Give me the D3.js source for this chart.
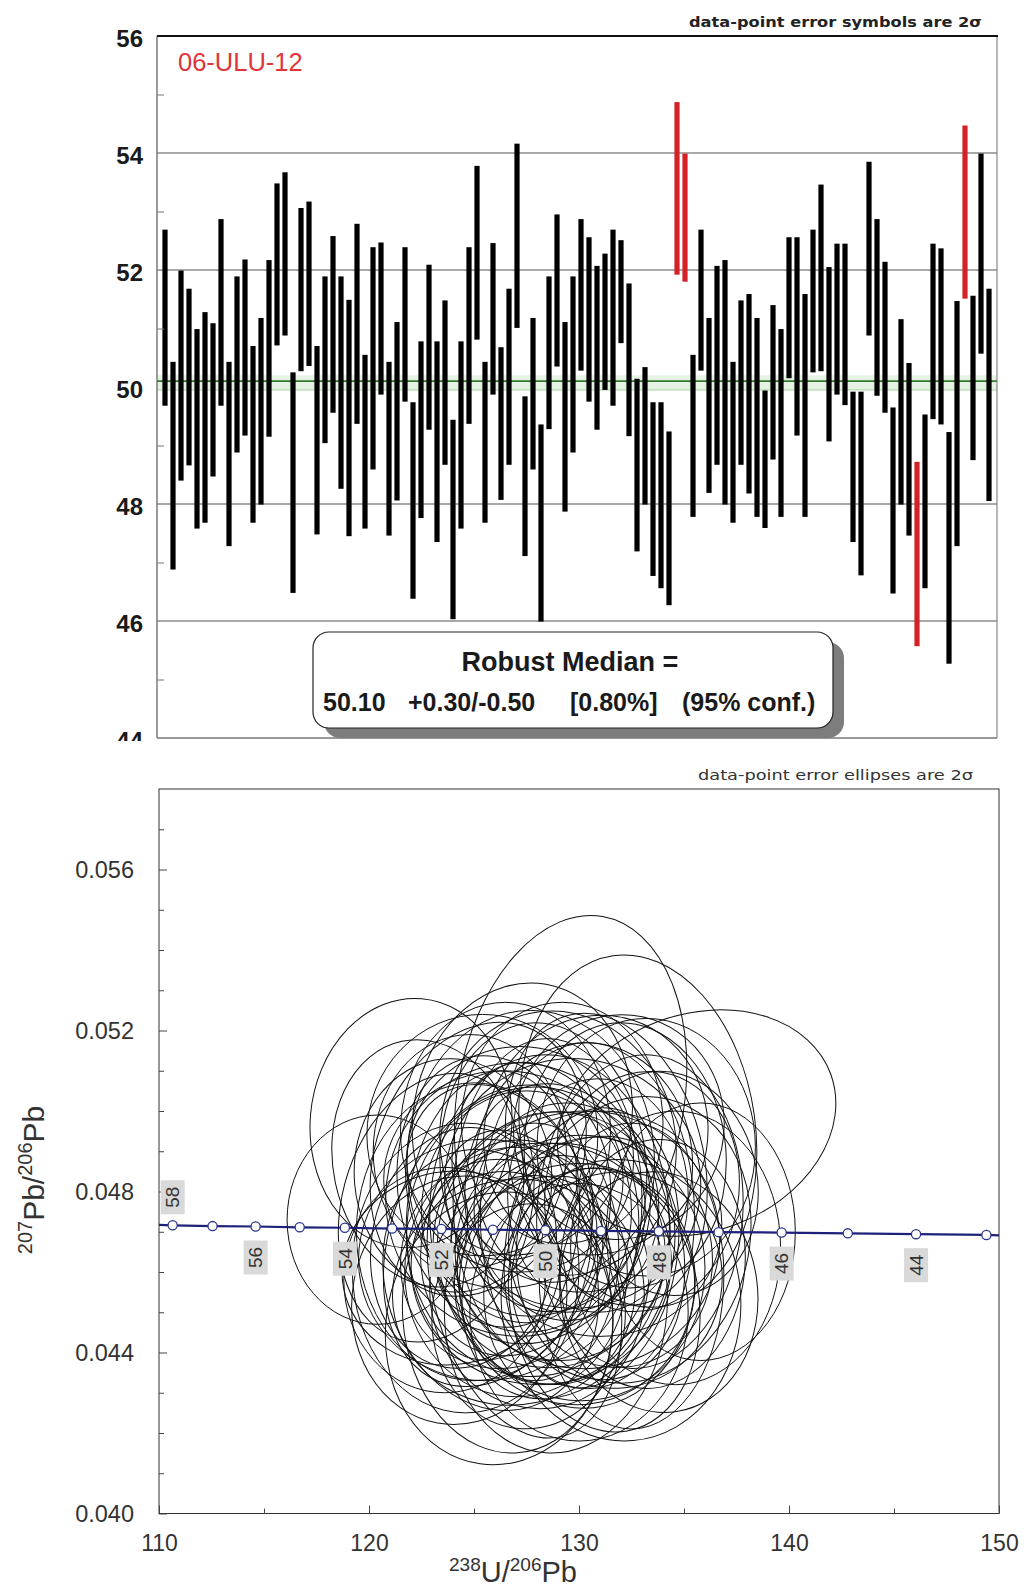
<!DOCTYPE html>
<html>
<head>
<meta charset="utf-8">
<script src="https://cdn.jsdelivr.net/npm/d3@7"></script>
<style>
  html, body { margin: 0; padding: 0; background: #fff; }
  svg { display: block; font-family: "Liberation Sans", Arial, Helvetica, sans-serif; }
</style>
</head>
<body>
<svg id="chart" width="1027" height="1593"></svg>
<script>
// ---------- Upper panel: 206Pb/238U spot ages (Ma), 2-sigma limits ----------
const sampleName = "06-ULU-12";
const ageUpper = [
  52.69, 50.43, 51.99, 51.68, 50.99, 51.28, 51.09, 52.87, 50.43, 51.89,
  52.18, 50.70, 51.18, 52.17, 53.48, 53.67, 50.25, 53.06, 53.17, 50.70,
  51.89, 52.58, 51.89, 51.49, 52.79, 50.55, 52.39, 52.47, 50.43, 51.11,
  52.39, 49.74, 50.78, 52.09, 50.78, 51.48, 49.44, 50.78, 52.39, 53.78,
  50.43, 52.46, 50.68, 51.68, 54.16, 49.84, 51.18, 49.36, 51.89, 52.95,
  51.11, 51.89, 52.87, 52.56, 52.07, 52.28, 52.69, 52.51, 51.77, 50.14,
  50.34, 49.74, 49.74, 49.24, 54.87, 53.99, 50.55, 52.69, 51.18, 52.07,
  52.17, 50.43, 51.48, 51.59, 51.18, 49.94, 51.40, 50.99, 52.56, 52.56,
  51.59, 52.69, 53.46, 52.05, 52.45, 52.45, 49.92, 49.92, 53.85, 52.87,
  52.14, 49.65, 51.16, 50.41, 48.72, 49.53, 52.45, 52.37, 49.23, 51.47,
  54.47, 51.56, 53.99, 51.68
];
const ageLower = [
  49.68, 46.88, 48.40, 48.66, 47.58, 47.68, 48.47, 49.68, 47.28, 48.88,
  49.17, 47.68, 47.99, 49.15, 50.71, 50.88, 46.48, 50.27, 50.36, 47.48,
  49.04, 49.56, 48.26, 47.45, 49.37, 47.58, 48.59, 49.87, 47.46, 48.06,
  49.75, 46.38, 47.76, 49.27, 47.35, 48.67, 46.03, 47.58, 49.37, 50.81,
  47.68, 49.87, 48.07, 48.67, 51.01, 47.11, 48.59, 45.99, 49.28, 50.35,
  47.87, 48.88, 50.28, 49.75, 49.27, 49.95, 49.68, 50.75, 49.16, 47.19,
  47.99, 46.77, 46.56, 46.27, 51.92, 51.80, 47.78, 50.28, 48.19, 48.67,
  47.99, 47.68, 48.67, 48.18, 47.78, 47.59, 48.76, 47.78, 50.15, 49.17,
  47.78, 50.25, 50.27, 49.07, 49.87, 49.69, 47.35, 46.78, 50.88, 49.85,
  49.56, 46.47, 47.99, 47.46, 45.57, 46.56, 49.45, 49.36, 45.27, 47.28,
  51.51, 48.75, 50.57, 48.05
];
const rejectedSpots = [65, 66, 95, 101];          // 1-based spot numbers
const ageTicks = [44, 46, 48, 50, 52, 54, 56];
const ageMinorTicks = [45, 47, 49, 51, 53, 55];
const ageGrid = [46, 48, 50, 52, 54];
const robustMedian = 50.10;
const medianBand = [49.95, 50.20];
const medianLine1 = "Robust Median =";
const medianLine2 = ["50.10", "+0.30/-0.50", "[0.80%]", "(95% conf.)"];

// ---------- Lower panel: Tera-Wasserburg concordia ----------
const trAxisTicks = [110, 120, 130, 140, 150];
const trAxisMinor = [115, 125, 135, 145];
const pbTicks = [0.040, 0.044, 0.048, 0.052, 0.056];
const pbMinor = [0.041, 0.042, 0.043, 0.045, 0.046, 0.047, 0.049, 0.050, 0.051, 0.053, 0.054, 0.055, 0.057];
const concordiaAges = [58, 57, 56, 55, 54, 53, 52, 51, 50, 49, 48, 47, 46, 45, 44, 43];
const concordiaX = [110.65, 112.55, 114.6, 116.7, 118.85, 121.1, 123.45, 125.9, 128.4, 131.05, 133.8, 136.65, 139.65, 142.8, 146.05, 149.4];
const concordiaY = [0.04716, 0.04714, 0.04713, 0.04711, 0.04710, 0.04708, 0.04707, 0.04705, 0.04704, 0.04702, 0.04701, 0.04699, 0.04698, 0.04696, 0.04694, 0.04692];
const concordiaEnds = [[110, 0.04717], [150, 0.04691]];
const labelledAges = [58, 56, 54, 52, 50, 48, 46, 44];

// error ellipses: [238U/206Pb, 207Pb/206Pb, half-width, half-height, tilt deg]
const ellipses = [
  [129.6, 0.0503, 5.4, 0.0046, 10], [135.6, 0.0497, 6.8, 0.0027, -20], [122.0, 0.0497, 4.8, 0.0031, 5],
  [132.8, 0.0495, 5.6, 0.0044, -8], [120.4, 0.0473, 4.3, 0.0026, 0], [123.9, 0.0461, 5.2, 0.0024, -10],
  [126.2, 0.0446, 5.4, 0.0034, 8], [132.0, 0.0453, 5.7, 0.0035, -5], [135.8, 0.0470, 4.5, 0.0032, 0],
  [130.5, 0.0456, 5.0, 0.0030, 12], [127.5, 0.0475, 5.0, 0.0030, 0], [128.8, 0.0468, 5.5, 0.0032, 15],
  [126.0, 0.0480, 4.6, 0.0034, -10], [130.2, 0.0486, 5.2, 0.0031, 5], [125.2, 0.0488, 4.9, 0.0035, 20],
  [131.5, 0.0465, 4.8, 0.0029, -15], [127.0, 0.0460, 5.3, 0.0031, 0], [129.0, 0.0492, 5.6, 0.0033, -12],
  [124.5, 0.0466, 4.4, 0.0030, 8], [133.0, 0.0480, 4.6, 0.0030, 10], [128.0, 0.0455, 5.1, 0.0029, -8],
  [126.5, 0.0495, 5.0, 0.0032, 0], [130.8, 0.0494, 5.3, 0.0030, 18], [125.8, 0.0458, 5.0, 0.0033, -18],
  [132.2, 0.0489, 4.8, 0.0033, -5], [127.8, 0.0470, 6.0, 0.0036, 3], [129.5, 0.0461, 4.7, 0.0034, 25],
  [124.0, 0.0484, 4.7, 0.0029, -5], [131.0, 0.0472, 5.8, 0.0028, 0], [126.8, 0.0466, 4.3, 0.0027, 12],
  [128.5, 0.0478, 4.5, 0.0040, 0], [133.5, 0.0462, 4.4, 0.0031, 6], [125.0, 0.0470, 5.6, 0.0037, 0],
  [129.8, 0.0470, 4.9, 0.0038, -20], [127.2, 0.0488, 5.4, 0.0028, 10], [130.0, 0.0450, 5.2, 0.0032, 0],
  [123.2, 0.0476, 4.5, 0.0034, 15], [128.2, 0.0462, 6.2, 0.0030, -6], [131.8, 0.0458, 5.0, 0.0027, 20],
  [126.3, 0.0477, 4.2, 0.0031, -25], [129.2, 0.0497, 4.8, 0.0030, 0], [134.2, 0.0482, 4.3, 0.0028, -10],
  [127.6, 0.0449, 4.6, 0.0028, 5], [125.5, 0.0463, 6.0, 0.0030, 0], [130.6, 0.0466, 4.1, 0.0035, 8],
  [128.6, 0.0473, 5.7, 0.0041, -3], [124.8, 0.0490, 4.6, 0.0029, 0], [132.6, 0.0468, 5.5, 0.0036, 14],
  [126.9, 0.0455, 5.8, 0.0028, -12], [129.4, 0.0476, 4.4, 0.0026, 0], [127.3, 0.0498, 5.2, 0.0034, 10],
  [131.3, 0.0488, 4.6, 0.0037, -15], [128.9, 0.0452, 5.3, 0.0037, 4], [123.6, 0.0458, 4.8, 0.0028, 0],
  [133.8, 0.0455, 4.7, 0.0030, -8], [126.1, 0.0469, 5.0, 0.0039, 22], [130.1, 0.0461, 5.9, 0.0033, 0],
  [128.3, 0.0486, 4.9, 0.0036, -6], [125.4, 0.0494, 5.5, 0.0030, 0], [131.9, 0.0496, 5.0, 0.0028, 12],
  [127.9, 0.0465, 4.0, 0.0032, 0], [129.7, 0.0482, 6.1, 0.0031, 6], [124.3, 0.0453, 5.1, 0.0031, 10],
  [134.6, 0.0466, 5.0, 0.0034, 0], [126.6, 0.0450, 5.0, 0.0035, -4], [130.4, 0.0474, 5.1, 0.0043, 0],
  [122.8, 0.0487, 4.5, 0.0031, -12], [128.7, 0.0458, 4.6, 0.0026, 16], [132.5, 0.0459, 4.4, 0.0038, 0],
  [127.1, 0.0478, 6.3, 0.0034, -8], [128.1, 0.0471, 4.8, 0.0030, 30], [126.4, 0.0483, 5.7, 0.0027, 0],
  [131.2, 0.0453, 4.5, 0.0033, -10], [129.1, 0.0465, 5.0, 0.0027, 0], [125.9, 0.0474, 4.1, 0.0036, 5],
  [133.2, 0.0491, 5.2, 0.0032, 0], [127.4, 0.0457, 4.4, 0.0039, -14], [130.9, 0.0479, 4.3, 0.0029, 0],
  [124.6, 0.0461, 5.4, 0.0036, 0], [129.9, 0.0457, 5.6, 0.0030, 9], [128.4, 0.0480, 4.2, 0.0033, -18],
  [126.2, 0.0462, 4.7, 0.0026, 0], [132.9, 0.0475, 4.9, 0.0039, 4], [127.7, 0.0487, 5.9, 0.0038, 0],
  [130.3, 0.0468, 6.4, 0.0032, -4]
];

// ======================================================================
const svg = d3.select("#chart");
svg.append("rect").attr("width", 1027).attr("height", 1593).attr("fill", "#fff");
const defs = svg.append("defs");
defs.append("clipPath").attr("id", "topClip")
  .append("rect").attr("x", 0).attr("y", 0).attr("width", 1027).attr("height", 741);

// ---------------- upper panel ----------------
const T = { left: 157, right: 997, top: 36, bottom: 738 };
const xSpot = d3.scaleLinear().domain([0, ageUpper.length + 1]).range([T.left, T.right]);
const yAge = d3.scaleLinear().domain([44, 56]).range([T.bottom, T.top]);
const spots = ageUpper.map((u, i) => ({ n: i + 1, hi: u, lo: ageLower[i], rejected: rejectedSpots.includes(i + 1) }));

const gTop = svg.append("g").attr("clip-path", "url(#topClip)");

// grid lines
gTop.append("g").selectAll("line").data(ageGrid).join("line")
  .attr("x1", T.left).attr("x2", T.right)
  .attr("y1", d => yAge(d)).attr("y2", d => yAge(d))
  .attr("stroke", "#555").attr("stroke-width", 1.2);

// robust median with its band
gTop.append("rect")
  .attr("x", T.left).attr("width", T.right - T.left)
  .attr("y", yAge(medianBand[1])).attr("height", yAge(medianBand[0]) - yAge(medianBand[1]))
  .attr("fill", "#e6f3e4");
gTop.append("line")
  .attr("x1", T.left).attr("x2", T.right)
  .attr("y1", yAge(medianBand[0])).attr("y2", yAge(medianBand[0]))
  .attr("stroke", "#a9d3a4").attr("stroke-width", 1);
gTop.append("line")
  .attr("x1", T.left).attr("x2", T.right)
  .attr("y1", yAge(robustMedian)).attr("y2", yAge(robustMedian))
  .attr("stroke", "#2f7a2a").attr("stroke-width", 1.6);

// error bars
gTop.append("g").selectAll("rect").data(spots).join("rect")
  .attr("x", d => xSpot(d.n) - 2.6).attr("width", 5.2)
  .attr("y", d => yAge(d.hi)).attr("height", d => yAge(d.lo) - yAge(d.hi))
  .attr("fill", d => d.rejected ? "#d42128" : "#000");

// frame
gTop.append("line").attr("x1", T.left).attr("x2", T.left).attr("y1", T.top).attr("y2", T.bottom)
  .attr("stroke", "#666").attr("stroke-width", 1.3);
gTop.append("line").attr("x1", T.right).attr("x2", T.right).attr("y1", T.top).attr("y2", T.bottom)
  .attr("stroke", "#888").attr("stroke-width", 1.2);
gTop.append("line").attr("x1", T.left).attr("x2", T.right).attr("y1", T.bottom).attr("y2", T.bottom)
  .attr("stroke", "#777").attr("stroke-width", 1.3);
gTop.append("line").attr("x1", T.left).attr("x2", T.right + 1).attr("y1", T.top).attr("y2", T.top)
  .attr("stroke", "#111").attr("stroke-width", 2);

// y axis labels and minor ticks
const ageAxis = gTop.append("g").attr("transform", `translate(${T.left},0)`)
  .call(d3.axisLeft(yAge).tickValues(ageTicks).tickSize(0).tickPadding(14).tickFormat(d3.format("d")));
ageAxis.select(".domain").remove();
ageAxis.selectAll("text")
  .attr("dy", "0.42em")
  .attr("font-size", 24).attr("font-weight", "bold").attr("fill", "#1a1a1a")
  .attr("font-family", "'Liberation Sans', Arial, sans-serif");
const ageMinor = gTop.append("g").attr("transform", `translate(${T.left},0)`)
  .call(d3.axisRight(yAge).tickValues(ageMinorTicks).tickSize(7).tickFormat(""));
ageMinor.select(".domain").remove();
ageMinor.selectAll("line").attr("stroke", "#777").attr("stroke-width", 1);

// sample name
gTop.append("text").attr("x", 178).attr("y", 71)
  .attr("font-size", 25.5).attr("fill", "#e0343a").text(sampleName);

// robust median box
const box = { x: 313, y: 632, w: 520, h: 96 };
gTop.append("rect").attr("x", box.x + 11).attr("y", box.y + 10).attr("width", box.w).attr("height", box.h)
  .attr("rx", 16).attr("fill", "#7d7d7d");
gTop.append("rect").attr("x", box.x).attr("y", box.y).attr("width", box.w).attr("height", box.h)
  .attr("rx", 16).attr("fill", "#fff").attr("stroke", "#222").attr("stroke-width", 1.2);
gTop.append("text").attr("x", 570).attr("y", 671).attr("text-anchor", "middle")
  .attr("font-size", 27).attr("font-weight", "bold").attr("fill", "#1a1a1a").text(medianLine1);
const line2X = [323, 408, 570, 682];
gTop.append("g").selectAll("text").data(medianLine2).join("text")
  .attr("x", (d, i) => line2X[i]).attr("y", 711)
  .attr("font-size", 25).attr("font-weight", "bold").attr("fill", "#1a1a1a")
  .text(d => d);

// note
svg.append("text").attr("x", 689).attr("y", 27)
  .attr("font-family", "'DejaVu Sans', sans-serif").attr("font-weight", "bold")
  .attr("font-size", 14).attr("fill", "#222")
  .attr("textLength", 293).attr("lengthAdjust", "spacingAndGlyphs")
  .text("data-point error symbols are 2σ");

// ---------------- lower panel ----------------
const B = { left: 159, right: 999, top: 789, bottom: 1513.5 };
const xTW = d3.scaleLinear().domain([110, 150]).range([B.left, B.right]);
const yTW = d3.scaleLinear().domain([0.040, 0.058]).range([B.bottom, B.top]);
const gBot = svg.append("g");

// frame
gBot.append("rect").attr("x", B.left).attr("y", B.top)
  .attr("width", B.right - B.left).attr("height", B.bottom - B.top)
  .attr("fill", "none").attr("stroke", "#333").attr("stroke-width", 1);

// axes
const yAx = gBot.append("g").attr("transform", `translate(${B.left},0)`)
  .call(d3.axisLeft(yTW).tickValues(pbTicks).tickSize(0).tickPadding(25).tickFormat(d3.format(".3f")));
yAx.select(".domain").remove();
yAx.selectAll("text").attr("font-size", 23.5).attr("fill", "#333")
  .attr("font-family", "'Liberation Sans', Arial, sans-serif");
const yMaj = gBot.append("g").attr("transform", `translate(${B.left},0)`)
  .call(d3.axisRight(yTW).tickValues(pbTicks).tickSize(8).tickFormat(""));
yMaj.select(".domain").remove();
const yMin = gBot.append("g").attr("transform", `translate(${B.left},0)`)
  .call(d3.axisRight(yTW).tickValues(pbMinor).tickSize(5).tickFormat(""));
yMin.select(".domain").remove();

const xAx = gBot.append("g").attr("transform", `translate(0,${B.bottom})`)
  .call(d3.axisBottom(xTW).tickValues(trAxisTicks).tickSize(0).tickPadding(21).tickFormat(d3.format("d")));
xAx.select(".domain").remove();
xAx.selectAll("text").attr("font-size", 23).attr("fill", "#333")
  .attr("font-family", "'Liberation Sans', Arial, sans-serif");
const xMaj = gBot.append("g").attr("transform", `translate(0,${B.bottom})`)
  .call(d3.axisTop(xTW).tickValues(trAxisTicks).tickSize(8).tickFormat(""));
xMaj.select(".domain").remove();
const xMin = gBot.append("g").attr("transform", `translate(0,${B.bottom})`)
  .call(d3.axisTop(xTW).tickValues(trAxisMinor).tickSize(5).tickFormat(""));
xMin.select(".domain").remove();
gBot.selectAll(".tick line").attr("stroke", "#444").attr("stroke-width", 1);

// error ellipses
gBot.append("g").selectAll("ellipse").data(ellipses).join("ellipse")
  .attr("cx", d => xTW(d[0])).attr("cy", d => yTW(d[1]))
  .attr("rx", d => xTW(d[0] + d[2]) - xTW(d[0]))
  .attr("ry", d => yTW(d[1]) - yTW(d[1] + d[3]))
  .attr("transform", d => `rotate(${d[4]},${xTW(d[0])},${yTW(d[1])})`)
  .attr("fill", "none").attr("stroke", "#111").attr("stroke-width", 1);

// concordia curve
const concordiaPts = [concordiaEnds[0], ...concordiaX.map((x, i) => [x, concordiaY[i]]), concordiaEnds[1]];
gBot.append("path").datum(concordiaPts)
  .attr("d", d3.line().x(d => xTW(d[0])).y(d => yTW(d[1])))
  .attr("fill", "none").attr("stroke", "#1d2178").attr("stroke-width", 2.2);
gBot.append("g").selectAll("circle").data(concordiaAges).join("circle")
  .attr("cx", (d, i) => xTW(concordiaX[i])).attr("cy", (d, i) => yTW(concordiaY[i]))
  .attr("r", 4.6).attr("fill", "#fff").attr("stroke", "#2a3590").attr("stroke-width", 1.3);

// age labels
const ageLabels = gBot.append("g").selectAll("g").data(labelledAges).join("g")
  .attr("transform", d => {
    const i = concordiaAges.indexOf(d);
    const off = d === 58 ? -28 : 31;
    return `translate(${xTW(concordiaX[i])},${yTW(concordiaY[i]) + off}) rotate(-90)`;
  });
ageLabels.append("rect").attr("x", -17).attr("y", -12).attr("width", 34).attr("height", 24)
  .attr("fill", "#d9d9d9");
ageLabels.append("text").attr("text-anchor", "middle").attr("dy", "0.36em")
  .attr("font-size", 19).attr("fill", "#333").text(d => d);

// axis titles
const xTitle = svg.append("text").attr("x", 513).attr("y", 1582).attr("text-anchor", "middle")
  .attr("font-size", 29).attr("fill", "#333");
xTitle.append("tspan").attr("font-size", 19).attr("dy", -11).text("238");
xTitle.append("tspan").attr("dy", 11).text("U/");
xTitle.append("tspan").attr("font-size", 19).attr("dy", -11).text("206");
xTitle.append("tspan").attr("dy", 11).text("Pb");

const yTitle = svg.append("text").attr("transform", "translate(44,1180) rotate(-90)")
  .attr("text-anchor", "middle").attr("font-size", 30).attr("fill", "#333");
yTitle.append("tspan").attr("font-size", 20).attr("dy", -12).text("207");
yTitle.append("tspan").attr("dy", 12).text("Pb/");
yTitle.append("tspan").attr("font-size", 20).attr("dy", -12).text("206");
yTitle.append("tspan").attr("dy", 12).text("Pb");

svg.append("text").attr("x", 698).attr("y", 780)
  .attr("font-family", "'DejaVu Sans', sans-serif")
  .attr("font-size", 13.5).attr("fill", "#333")
  .attr("textLength", 275).attr("lengthAdjust", "spacingAndGlyphs")
  .text("data-point error ellipses are 2σ");
</script>
</body>
</html>
